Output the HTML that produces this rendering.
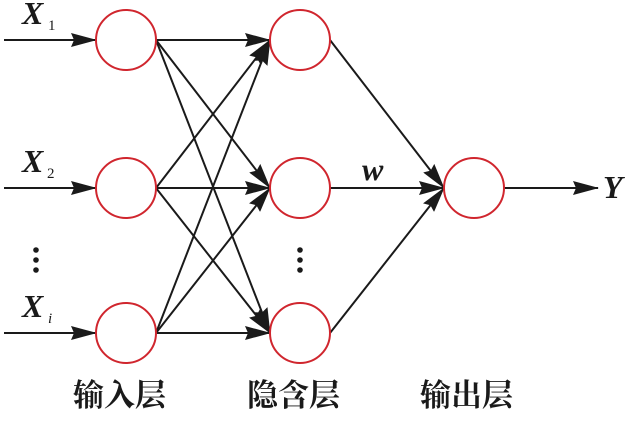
<!DOCTYPE html>
<html><head><meta charset="utf-8"><style>
html,body{margin:0;padding:0;background:#fff;}
</style></head><body>
<svg width="625" height="417" viewBox="0 0 625 417" xmlns="http://www.w3.org/2000/svg">
<defs>
<marker id="a" markerWidth="26" markerHeight="14" refX="25" refY="7" orient="auto" markerUnits="userSpaceOnUse">
<path d="M0,0 L26,7 L0,14 L3,7 Z" fill="#1a1a1a"/>
</marker>
</defs>
<g stroke="#1a1a1a" stroke-width="2" fill="none">
<line x1="4" y1="40" x2="96" y2="40" marker-end="url(#a)"/>
<line x1="4" y1="188" x2="96" y2="188" marker-end="url(#a)"/>
<line x1="4" y1="333" x2="96" y2="333" marker-end="url(#a)"/>
<g marker-end="url(#a)">
<line x1="156" y1="40" x2="270" y2="40"/>
<line x1="156" y1="40" x2="270" y2="188"/>
<line x1="156" y1="40" x2="270" y2="333"/>
<line x1="156" y1="188" x2="270" y2="40"/>
<line x1="156" y1="188" x2="270" y2="188"/>
<line x1="156" y1="188" x2="270" y2="333"/>
<line x1="156" y1="333" x2="270" y2="40"/>
<line x1="156" y1="333" x2="270" y2="188"/>
<line x1="156" y1="333" x2="270" y2="333"/>
<line x1="330" y1="40" x2="444" y2="188"/>
<line x1="330" y1="188" x2="444" y2="188"/>
<line x1="330" y1="333" x2="444" y2="188"/>
<line x1="504" y1="188" x2="598" y2="188"/>
</g>
</g>
<g stroke="#d0262e" stroke-width="2" fill="#fff">
<circle cx="126" cy="40" r="30"/>
<circle cx="126" cy="188" r="30"/>
<circle cx="126" cy="333" r="30"/>
<circle cx="300" cy="40" r="30"/>
<circle cx="300" cy="188" r="30"/>
<circle cx="300" cy="333" r="30"/>
<circle cx="474" cy="188" r="30"/>
</g>
<g font-family="Liberation Serif, serif" font-style="italic" font-weight="bold" fill="#1a1a1a">
<text x="22" y="24" font-size="32">X</text><text x="48" y="30" font-size="15" font-style="normal" font-weight="normal">1</text>
<text x="22" y="172" font-size="32">X</text><text x="47" y="178" font-size="15" font-style="normal" font-weight="normal">2</text>
<text x="22" y="317" font-size="32">X</text><text x="48" y="323" font-size="15" font-weight="normal">i</text>
<text x="362" y="180" font-size="32">w</text>
<text x="603" y="198" font-size="32">Y</text>
</g>
<g fill="#1a1a1a">
<circle cx="36" cy="250" r="2.8"/><circle cx="36" cy="260" r="2.8"/><circle cx="36" cy="270" r="2.8"/>
<circle cx="300" cy="250" r="2.8"/><circle cx="300" cy="260" r="2.8"/><circle cx="300" cy="270" r="2.8"/>
</g>
<g font-family="Liberation Serif, 'Noto Serif CJK SC', serif" font-size="31" font-weight="bold" fill="#1a1a1a">
<text x="73" y="406">输入层</text>
<text x="247" y="406">隐含层</text>
<text x="420" y="406">输出层</text>
</g>
</svg>
</body></html>
